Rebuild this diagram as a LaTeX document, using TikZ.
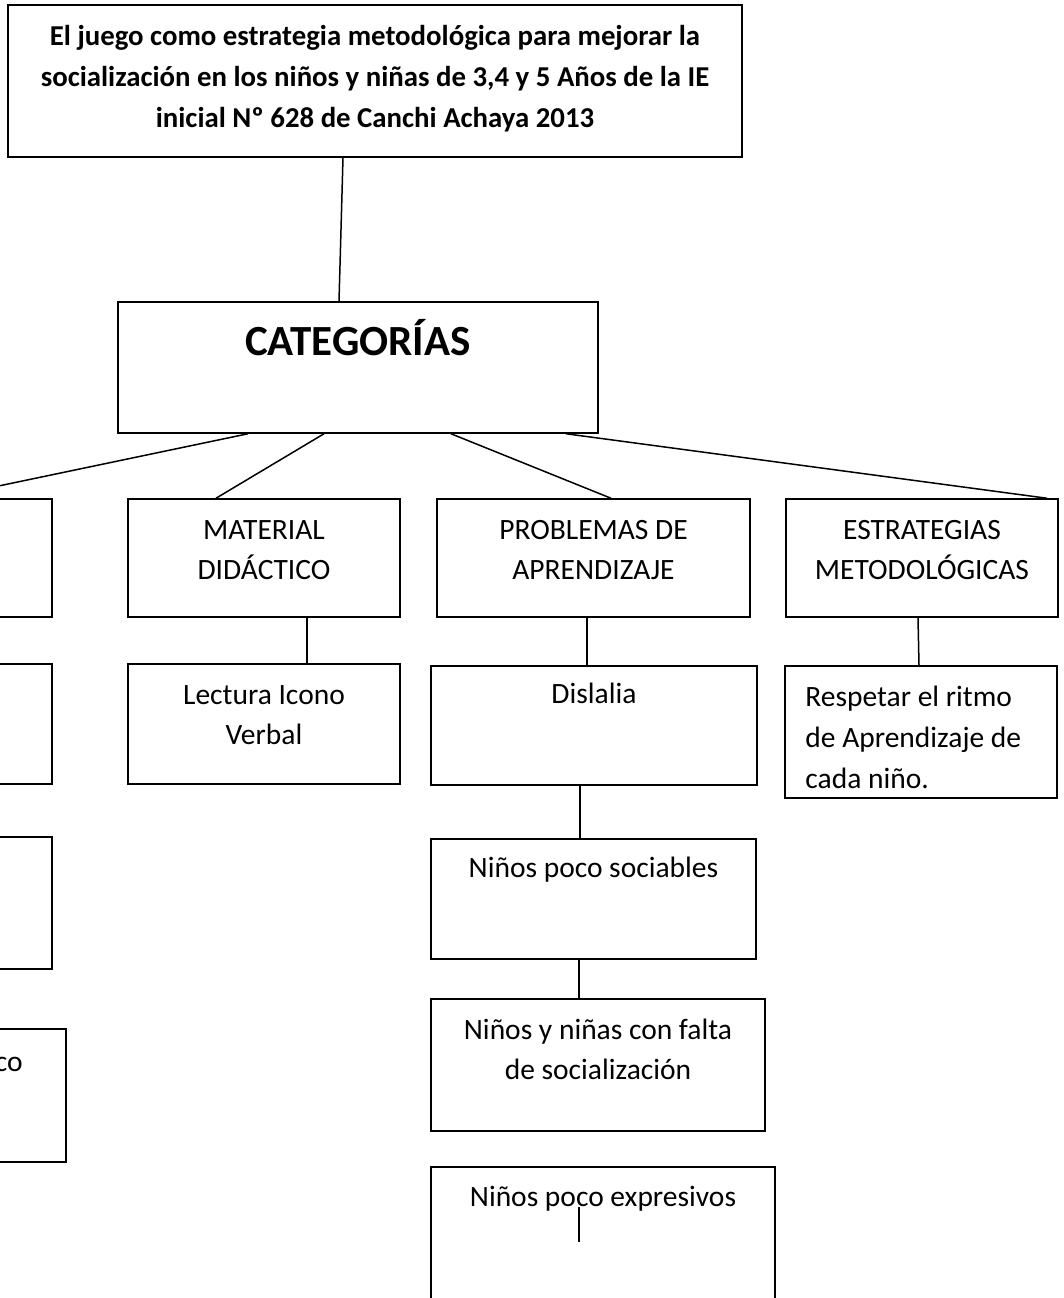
\documentclass[tikz,border=0pt]{standalone}
\usepackage{fontspec}
\setmainfont{Carlito}
\usepackage{tikz}

\begin{document}
\begin{tikzpicture}[x=1pt,y=-1pt,
		txt/.style={inner sep=0pt, align=center, font=\fontsize{29.5}{40}\selectfont,
			execute at begin node=\strut, execute at end node=\strut}]
	\useasboundingbox (0,0) rectangle (1064,1298);
	\clip (0,0) rectangle (1064,1298);

	\begin{scope}[every node/.style={rectangle, draw=black, line width=1.5pt, inner sep=0pt}]
		\node (title) at (375,81) [minimum width=734pt, minimum height=152pt] {};
		\node (cat) at (358,367.5) [minimum width=480pt, minimum height=131pt] {};
		\node (l1) at (-84.5,558) [minimum width=273pt, minimum height=118pt] {};
		\node (l2) at (-84.5,724) [minimum width=273pt, minimum height=120pt] {};
		\node (l3) at (-84.5,903) [minimum width=273pt, minimum height=132pt] {};
		\node (l4) at (-70.5,1095.5) [minimum width=273pt, minimum height=133pt] {};
		\node (mat) at (264,558) [minimum width=272pt, minimum height=118pt] {};
		\node (prob) at (593.5,558) [minimum width=313pt, minimum height=118pt] {};
		\node (estr) at (922,558) [minimum width=272pt, minimum height=118pt] {};
		\node (lect) at (264,724) [minimum width=272pt, minimum height=120pt] {};
		\node (disl) at (594,725.5) [minimum width=326pt, minimum height=119pt] {};
		\node (resp) at (921,732) [minimum width=272pt, minimum height=132pt] {};
		\node (soc) at (593.5,899) [minimum width=325pt, minimum height=120pt] {};
		\node (falta) at (598,1065) [minimum width=334pt, minimum height=132pt] {};
		\node (expr) at (603,1253.5) [minimum width=344pt, minimum height=173pt] {};
	\end{scope}

	\begin{scope}[every node/.style={txt, anchor=north}]
		\node (titleT) at ([yshift=-21pt]title.north) [font=\fontsize{28.8}{41}\selectfont\bfseries]
			{El juego como estrategia metodológica para mejorar la\\socialización en los niños y niñas de 3,4 y 5 Años de la IE\\inicial Nº 628 de Canchi Achaya 2013};
		\node (catT) at ([yshift=-18pt]cat.north) [font=\fontsize{43}{50}\selectfont\bfseries] {CATEGORÍAS};
		\node (l4T) at ([xshift=-44pt,yshift=-15pt]l4.north east) [anchor=north east, align=right] {co};
		\node (matT) at ([yshift=-22pt]mat.north) {MATERIAL\\DIDÁCTICO};
		\node (probT) at ([yshift=-22pt]prob.north) {PROBLEMAS DE\\APRENDIZAJE};
		\node (estrT) at ([yshift=-22pt]estr.north) {ESTRATEGIAS\\METODOLÓGICAS};
		\node (lectT) at ([yshift=-22pt]lect.north) {Lectura Icono\\Verbal};
		\node (dislT) at ([yshift=-10pt]disl.north) {Dislalia};
		\node (respT) at ([xshift=21pt,yshift=-21pt]resp.north west) [anchor=north west, align=left,
			font=\fontsize{29.5}{41}\selectfont] {Respetar el ritmo\\de Aprendizaje de\\cada niño.};
		\node (socT) at ([yshift=-11pt]soc.north) {Niños poco sociables};
		\node (faltaT) at ([yshift=-21pt]falta.north) {Niños y niñas con falta\\de socialización};
		\node (exprT) at ([yshift=-12pt]expr.north) {Niños poco expresivos};
	\end{scope}

	\begin{scope}[every edge/.style={draw=black, line width=1.5pt}]
		\path ([xshift=-32pt]title.south) edge ([xshift=-19pt]cat.north);
		\path ([xshift=-110pt]cat.south) edge ([xshift=24.5pt]l1.north);
		\path ([xshift=-34pt]cat.south) edge ([xshift=-48pt]mat.north);
		\path ([xshift=93pt]cat.south) edge ([xshift=17.5pt]prob.north);
		\path ([xshift=208pt]cat.south) edge ([xshift=125pt]estr.north);
		\path ([xshift=43pt]mat.south) edge ([xshift=43pt]lect.north);
		\path ([xshift=-6.5pt]prob.south) edge ([xshift=-7pt]disl.north);
		\path ([xshift=-4pt]estr.south) edge ([xshift=-2pt]resp.north);
		\path ([xshift=-14pt]disl.south) edge ([xshift=-13.5pt]soc.north);
		\path ([xshift=-14.5pt]soc.south) edge ([xshift=-19pt]falta.north);
		\path ([xshift=-24pt,yshift=-41pt]expr.north) edge ([xshift=-24pt,yshift=-76pt]expr.north);
	\end{scope}
\end{tikzpicture}
\end{document}
